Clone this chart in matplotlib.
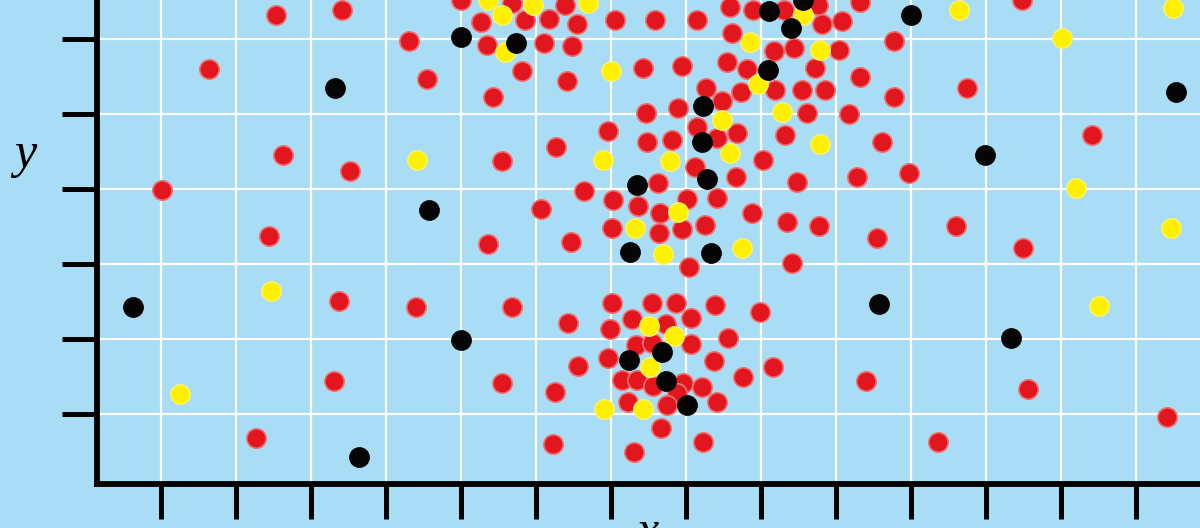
import matplotlib.pyplot as plt

# dot positions (arbitrary units, ticks every 75)
red_x = [190, 256, 123, 323, 341, 197, 76, 264, 183, 253, 330, 248, 170,
         375, 426, 479, 395, 439, 463, 491, 529, 569, 611, 401, 458, 486, 436, 481,
         557, 596, 407, 560, 592, 522, 470, 561, 586, 416,
         644, 667, 698, 732, 736, 756, 774, 646, 688, 708, 753, 641, 661, 729,
         620, 655, 689, 716, 739, 774, 636, 721, 763, 611, 631, 651, 699, 677,
         609, 650, 711, 771,
         808, 808, 881, 936, 1006, 796, 823, 733, 791, 870, 937,
         498, 527, 552, 572, 455, 526, 402, 485, 601, 631, 574, 666, 701, 573,
         596, 619, 603, 706,
         426, 416, 482, 469, 492, 467, 526, 566, 590, 629, 674, 546, 580, 605,
         524, 550, 566, 605, 642, 522, 628, 657, 687, 536, 551, 567, 597, 616,
         591, 542, 581, 631, 575, 617, 548,
         780, 942, 1081, 852]
red_y = [474, 479, 420, 448, 410, 334, 299, 318, 253, 188, 182, 108, 51,
         489, 486, 484, 467, 469, 470, 465, 469, 469, 469, 444, 446, 443, 418, 408,
         421, 423, 392, 376, 381, 358, 342, 347, 349, 328,
         482, 479, 479, 484, 465, 468, 487, 456, 438, 441, 439, 427, 420, 421,
         401, 397, 399, 399, 399, 412, 388, 376, 375, 362, 351, 356, 354, 329,
         322, 312, 307, 312,
         448, 392, 401, 489, 354, 347, 316, 263, 251, 263, 241,
         298, 289, 283, 306, 280, 261, 245, 247, 290, 291, 276, 276, 267, 256,
         260, 264, 222, 226,
         182, 106, 166, 97, 123, 45, 186, 186, 186, 184, 177, 170, 165, 171,
         160, 144, 146, 145, 151, 131, 128, 112, 122, 109, 109, 103, 106, 102,
         96, 87, 84, 87, 61, 47, 37,
         108, 100, 72, 47]

yellow_x = [402, 447, 502, 416, 419, 525, 517, 331, 717, 664, 734, 672, 696,
            636, 734, 644, 584, 592, 549, 577, 656, 873, 976, 1087, 990, 1085,
            1013, 185, 94, 563, 588, 564, 518, 557]
yellow_y = [489, 484, 486, 474, 437, 418, 329, 329, 474, 447, 439, 405, 377,
            369, 345, 336, 328, 277, 261, 235, 241, 479, 451, 481, 301, 261,
            183, 198, 95, 163, 153, 122, 80, 80]

black_x = [249, 375, 430, 343, 47, 375, 273, 683, 717, 705, 682, 617, 616,
           621, 551, 544, 625, 825, 1090, 899, 793, 925, 576, 543, 580, 601]
black_y = [401, 452, 446, 279, 182, 149, 32, 478, 489, 461, 419, 383, 347,
           310, 304, 237, 236, 474, 397, 334, 185, 151, 137, 129, 108, 84]

ticks_x = [75, 150, 225, 300, 375, 450, 525, 600, 675, 750, 825, 900, 975, 1050]
ticks_y = [75, 150, 225, 300, 375, 450]

bg = "#a9dcf5"

fig = plt.figure(figsize=(12, 5.28), dpi=100, facecolor=bg)
ax = fig.add_axes([97 / 1200, 44 / 528, 1103 / 1200, 484 / 528])
ax.set_facecolor(bg)

ax.scatter(red_x, red_y, s=195, color="#e1161e", edgecolors="#f27070", linewidths=1.2, zorder=3)
ax.scatter(yellow_x, yellow_y, s=195, color="#fff000", edgecolors="#fff36a", linewidths=1.0, zorder=4)
ax.scatter(black_x, black_y, s=195, color="#050505", edgecolors="#050505", linewidths=1.0, zorder=5)

ax.set_xlim(11, 1114)
ax.set_ylim(5, 489)
ax.set_xticks(ticks_x)
ax.set_yticks(ticks_y)
ax.set_xticklabels([])
ax.set_yticklabels([])
ax.grid(True, color="white", linewidth=1.6)
ax.set_axisbelow(True)
ax.tick_params(direction="out", length=25, width=3.6, color="black")

for side in ["top", "right"]:
    ax.spines[side].set_visible(False)
for side in ["left", "bottom"]:
    ax.spines[side].set_linewidth(4.2)
    ax.spines[side].set_color("black")

fig.text(25 / 1200, 1 - 155 / 528, "y", family="Liberation Serif", style="italic",
         fontsize=36, ha="center", va="center")
# x label sits mostly below the bottom edge, only its top shows
fig.text(648 / 1200, -17 / 528, "x", family="Liberation Serif", style="italic",
         fontsize=36, ha="center", va="baseline")

plt.savefig("out.png", dpi=100, facecolor=bg)
